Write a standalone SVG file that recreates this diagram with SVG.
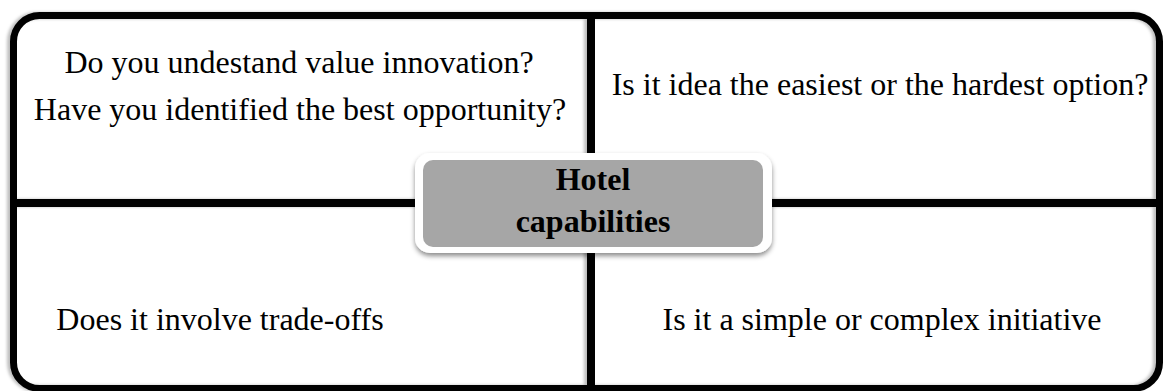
<svg xmlns="http://www.w3.org/2000/svg" width="1163" height="391" viewBox="0 0 1163 391">
  <defs>
    <filter id="lshadow" x="-5%" y="-5%" width="110%" height="110%">
      <feDropShadow dx="-3" dy="0" stdDeviation="1.5" flood-color="#000" flood-opacity="0.25"/>
    </filter>
    <filter id="cshadow" x="-10%" y="-20%" width="120%" height="150%">
      <feDropShadow dx="0" dy="3" stdDeviation="2.5" flood-color="#000" flood-opacity="0.45"/>
    </filter>
  </defs>
  <style>
    .line { stroke: #000; fill: none; }
    .q { font-family: "Liberation Serif", "Times New Roman", serif; font-size: 32px; fill: #000; text-anchor: middle; }
    .c { font-family: "Liberation Serif", "Times New Roman", serif; font-size: 32px; font-weight: bold; fill: #000; text-anchor: middle; }
  </style>
  <rect width="1163" height="391" fill="#fff"/>
  <g id="connectors" filter="url(#lshadow)">
    <rect class="line" x="13.5" y="15.5" width="1146" height="373" rx="26" ry="26" stroke-width="7"/>
    <line class="line" x1="591" y1="15" x2="591" y2="389" stroke-width="8"/>
    <line class="line" x1="13" y1="203" x2="1160" y2="203" stroke-width="8"/>
  </g>
  <g id="q1">
    <text class="q" x="299" y="73">Do you undestand value innovation?</text>
    <text class="q" x="300" y="120">Have you identified the best opportunity?</text>
  </g>
  <g id="q2">
    <text class="q" x="880" y="95">Is it idea the easiest or the hardest option?</text>
  </g>
  <g id="q3">
    <text class="q" x="220" y="330">Does it involve trade-offs</text>
  </g>
  <g id="q4">
    <text class="q" x="882" y="330">Is it a simple or complex initiative</text>
  </g>
  <g id="center">
    <rect x="415" y="153" width="357" height="100" rx="15" ry="15" fill="#fff" filter="url(#cshadow)"/>
    <rect x="423" y="160" width="340" height="87" rx="10" ry="10" fill="#a6a6a6"/>
    <text class="c" x="593" y="190">Hotel</text>
    <text class="c" x="593" y="232">capabilities</text>
  </g>
</svg>
